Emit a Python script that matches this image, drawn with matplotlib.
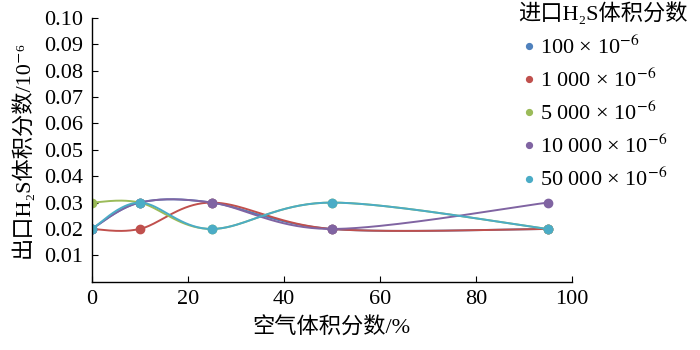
import numpy as np
import matplotlib
matplotlib.use('Agg')
import matplotlib.pyplot as plt

plt.rcParams['font.family'] = ['Liberation Serif', 'Noto Sans CJK SC', 'DejaVu Serif']
plt.rcParams['mathtext.fontset'] = 'stix'

# air volume fraction, %
air = [0, 10, 25, 50, 95]

# outlet H2S volume fraction, 10^-6, one list per inlet concentration
h2s_100 = [0.02, 0.03, 0.03, 0.02, 0.02]
h2s_1000 = [0.02, 0.02, 0.03, 0.02, 0.02]
h2s_5000 = [0.03, 0.03, 0.02, 0.03, 0.02]
h2s_10000 = [0.02, 0.03, 0.03, 0.02, 0.03]
h2s_50000 = [0.02, 0.03, 0.02, 0.03, 0.02]

labels = ['100 × 10$^{-6}$', '1 000 × 10$^{-6}$', '5 000 × 10$^{-6}$',
          '10 000 × 10$^{-6}$', '50 000 × 10$^{-6}$']
colors = ['#4f81bd', '#c0504d', '#9bbb59', '#8064a2', '#4bacc6']


def smooth(x, y, n=40):
    # excel-like smoothed line: bezier segments, catmull-rom tangents
    x = np.asarray(x, float)
    y = np.asarray(y, float)
    px = np.concatenate([[x[0]], x, [x[-1]]])
    py = np.concatenate([[y[0]], y, [y[-1]]])
    xs, ys = [], []
    t = np.linspace(0, 1, n)
    for i in range(len(x) - 1):
        p0 = np.array([px[i + 1], py[i + 1]])
        p3 = np.array([px[i + 2], py[i + 2]])
        p1 = p0 + (p3 - np.array([px[i], py[i]])) / 6
        p2 = p3 - (np.array([px[i + 3], py[i + 3]]) - p0) / 6
        b = ((1 - t) ** 3)[:, None] * p0 + (3 * (1 - t) ** 2 * t)[:, None] * p1 \
            + (3 * (1 - t) * t ** 2)[:, None] * p2 + (t ** 3)[:, None] * p3
        xs.append(b[:, 0])
        ys.append(b[:, 1])
    return np.concatenate(xs), np.concatenate(ys)


fig = plt.figure(figsize=(7, 3.5), dpi=100)
fig.patch.set_facecolor('white')
ax = fig.add_axes([0.131, 0.195, 0.686, 0.754])

series = [h2s_100, h2s_1000, h2s_5000, h2s_10000, h2s_50000]
for vals, c, lab in zip(series, colors, labels):
    sx, sy = smooth(air, vals)
    ax.plot(sx, sy, color=c, lw=1.4)
    ax.plot(air, vals, 'o', color=c, ms=6, label=lab)

ax.set_xlim(0, 100)
ax.set_ylim(0, 0.10)
ax.set_xticks([0, 20, 40, 60, 80, 100])
ax.set_yticks(np.arange(0.01, 0.105, 0.01))
ax.set_yticklabels(['%.2f' % v for v in np.arange(0.01, 0.105, 0.01)])
ax.spines['top'].set_visible(False)
ax.spines['right'].set_visible(False)
ax.tick_params(direction='in', length=4, labelsize=16, pad=6)
for s in ax.spines.values():
    s.set_linewidth(1.0)

ax.set_xlabel('空气体积分数/%', fontsize=16, labelpad=6)
ax.set_ylabel('出口H₂S体积分数/10⁻⁶', fontsize=16, labelpad=8)

leg = ax.legend(loc='upper left', bbox_to_anchor=(0.718, 1.037), bbox_transform=fig.transFigure,
                frameon=False, fontsize=16, title='进口H₂S体积分数', title_fontsize=16,
                handletextpad=0.0, handlelength=1.0, labelspacing=0.45, markerscale=0.7,
                borderpad=0.2)
leg._legend_box.align = 'left'

plt.savefig('out.png', transparent=False)
